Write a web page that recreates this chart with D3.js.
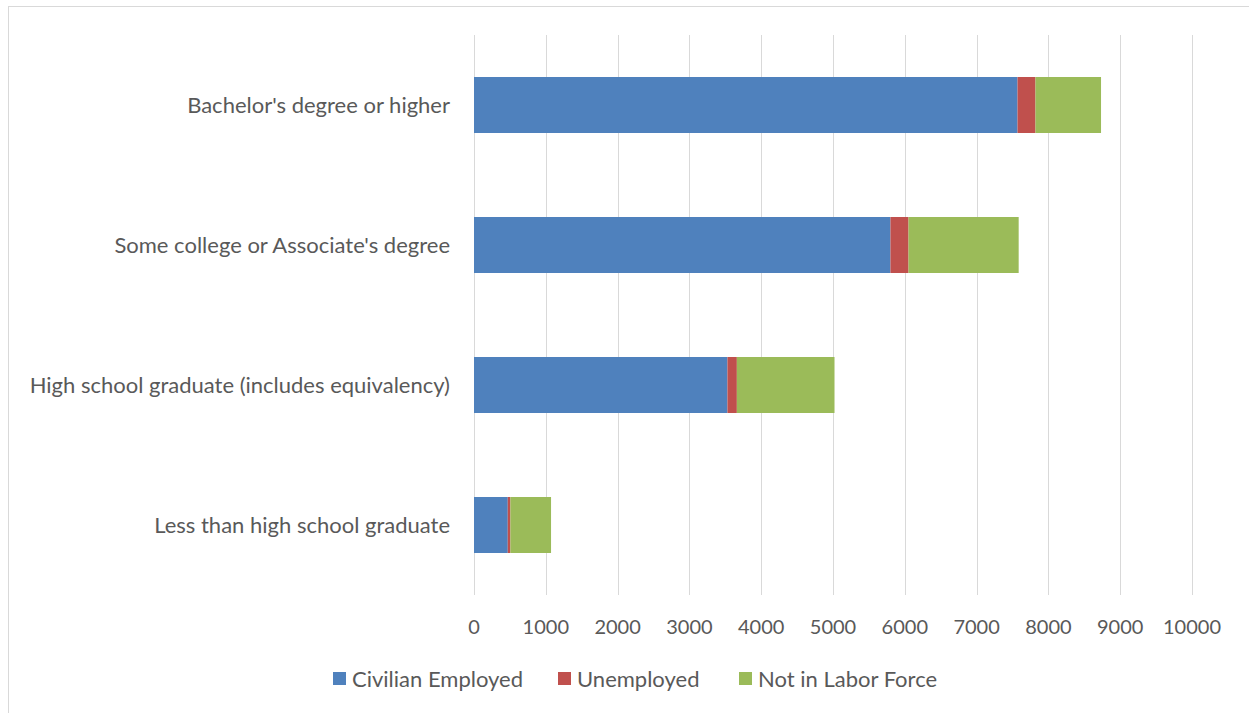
<!DOCTYPE html>
<html>
<head>
<meta charset="utf-8">
<script src="https://cdn.jsdelivr.net/npm/d3@7"></script>
<style>
  body { margin: 0; background: #fff; }
  svg { display: block; font-family: Lato, "Open Sans", sans-serif; }
</style>
</head>
<body>
<div id="chart"></div>
<script>
// data
var categories = [
  "Bachelor's degree or higher",
  "Some college or Associate's degree",
  "High school graduate (includes equivalency)",
  "Less than high school graduate"
];
var employed   = [7570, 5800, 3530, 470];
var unemployed = [250, 252, 131, 37];
var notInLabor = [913, 1534, 1360, 566];
var seriesNames = ["Civilian Employed", "Unemployed", "Not in Labor Force"];
var seriesColors = ["#4f81bd", "#c0504d", "#9bbb59"];
var xTicks = [0, 1000, 2000, 3000, 4000, 5000, 6000, 7000, 8000, 9000, 10000];

var W = 1249, H = 713;
var margin = {top: 35, right: 56, bottom: 118, left: 474},
width = W - margin.left - margin.right,
height = H - margin.top - margin.bottom;

var svg = d3.select("#chart")
.append("svg")
.attr("width", W)
.attr("height", H);

// outer frame
svg.append("rect")
.attr("x", 8.5)
.attr("y", 6.5)
.attr("width", W + 10)
.attr("height", H + 10)
.attr("fill", "none")
.attr("stroke", "#d9d9d9");

var g = svg.append("g")
.attr("transform", "translate(" + margin.left + "," + margin.top + ")");

var x = d3.scaleLinear().domain([0, 10000]).range([0, 718]);
var y = d3.scaleBand().domain(categories).range([0, 560]).paddingInner(0.6).paddingOuter(0.3);

// gridlines
g.append("g")
.selectAll("line")
.data(xTicks)
.enter().append("line")
.attr("x1", function(d) { return Math.round(x(d)) + 0.5; })
.attr("x2", function(d) { return Math.round(x(d)) + 0.5; })
.attr("y1", 0)
.attr("y2", 560)
.attr("stroke", "#d9d9d9")
.attr("stroke-width", 1);

// stacked bars
var rows = categories.map(function(c, i) {
  return {cat: c, "Civilian Employed": employed[i], "Unemployed": unemployed[i], "Not in Labor Force": notInLabor[i]};
});
var stack = d3.stack().keys(seriesNames)(rows);

g.append("g")
.selectAll("g")
.data(stack)
.enter().append("g")
.attr("fill", function(d, i) { return seriesColors[i]; })
.selectAll("rect")
.data(function(d) { return d; })
.enter().append("rect")
.attr("x", function(d) { return x(d[0]); })
.attr("width", function(d) { return x(d[1]) - x(d[0]); })
.attr("y", function(d) { return y(d.data.cat); })
.attr("height", y.bandwidth());

// category labels
g.append("g")
.selectAll("text")
.data(categories)
.enter().append("text")
.attr("x", -24)
.attr("y", function(d) { return y(d) + y.bandwidth() / 2; })
.attr("dy", "0.35em")
.attr("text-anchor", "end")
.attr("fill", "#595959")
.attr("font-size", 22)
.text(function(d) { return d; });

// x tick labels
g.append("g")
.selectAll("text")
.data(xTicks)
.enter().append("text")
.attr("x", function(d) { return x(d); })
.attr("y", 592)
.attr("dy", "0.35em")
.attr("text-anchor", "middle")
.attr("fill", "#595959")
.attr("font-size", 20)
.text(function(d) { return d; });

// legend
var legendX = [333, 558, 739];
var legend = svg.append("g")
.selectAll("g")
.data(seriesNames)
.enter().append("g")
.attr("transform", function(d, i) { return "translate(" + legendX[i] + ",679)"; });

legend.append("rect")
.attr("x", 0)
.attr("y", -7)
.attr("width", 13)
.attr("height", 13)
.attr("fill", function(d, i) { return seriesColors[i]; });

legend.append("text")
.attr("x", 19)
.attr("y", 0)
.attr("dy", "0.35em")
.attr("fill", "#595959")
.attr("font-size", 22)
.text(function(d) { return d; });
</script>
</body>
</html>
